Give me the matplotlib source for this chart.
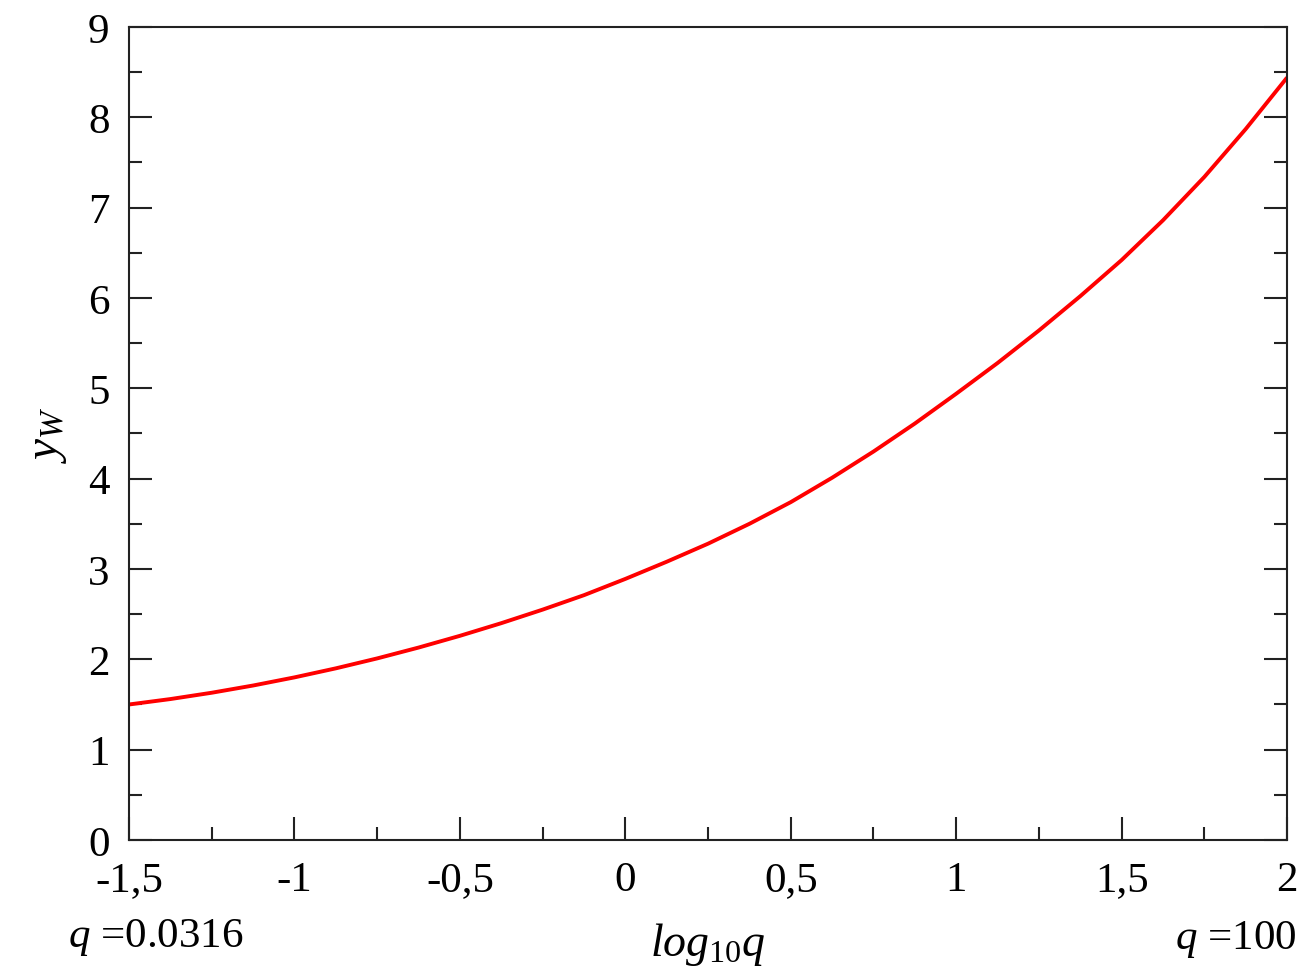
import numpy as np
import matplotlib
matplotlib.use("Agg")
import matplotlib.pyplot as plt
from matplotlib.ticker import MultipleLocator

# y_W as a function of log10(q), sampled every 0.125
log_q = [-1.5, -1.375, -1.25, -1.125, -1.0, -0.875, -0.75, -0.625, -0.5,
         -0.375, -0.25, -0.125, 0.0, 0.125, 0.25, 0.375, 0.5, 0.625, 0.75,
         0.875, 1.0, 1.125, 1.25, 1.375, 1.5, 1.625, 1.75, 1.875, 2.0]
y_w = [1.50, 1.56, 1.63, 1.71, 1.80, 1.90, 2.01, 2.13, 2.26,
       2.40, 2.55, 2.71, 2.89, 3.08, 3.28, 3.50, 3.74, 4.01, 4.30,
       4.61, 4.94, 5.28, 5.64, 6.02, 6.42, 6.86, 7.34, 7.87, 8.44]

xticks = [-1.5, -1.0, -0.5, 0.0, 0.5, 1.0, 1.5, 2.0]
xticklabels = ["-1,5", "-1", "-0,5", "0", "0,5", "1", "1,5", "2"]
yticks = list(range(0, 10))

plt.rcParams['font.family'] = ['Liberation Serif', 'DejaVu Serif']
plt.rcParams['mathtext.fontset'] = 'custom'
plt.rcParams['mathtext.rm'] = 'Liberation Serif'
plt.rcParams['mathtext.it'] = 'Liberation Serif:italic'

fig = plt.figure(figsize=(13.06, 9.78), dpi=100)
ax = fig.add_axes([0.0988, 0.1401, 0.8867, 0.8313])

ax.plot(log_q, y_w, color='#ff0000', lw=2.8, solid_capstyle='butt')

ax.set_xlim(-1.5, 2)
ax.set_ylim(0, 9)
ax.set_xticks(xticks)
ax.set_xticklabels(xticklabels)
ax.set_yticks(yticks)
ax.xaxis.set_minor_locator(MultipleLocator(0.25))
ax.yaxis.set_minor_locator(MultipleLocator(0.5))

ax.tick_params(which='both', direction='in', top=False, right=True,
               width=1.5, color='#222222', labelsize=31)
ax.tick_params(which='major', length=16.5)
ax.tick_params(which='minor', length=9.5)
ax.tick_params(axis='x', pad=15)
ax.tick_params(axis='y', pad=14)
for s in ax.spines.values():
    s.set_linewidth(1.5)
    s.set_color('#222222')

ax.set_ylabel(r'$y_{W}$', fontsize=34, labelpad=14)
fig.text(0.542, 0.034, r'$log_{\mathit{10}}q$', fontsize=33,
         ha='center', va='center')
fig.text(0.052, 0.041, r'$q$ =0.0316', fontsize=31, ha='left', va='center')
fig.text(0.993, 0.039, r'$q$ =100', fontsize=31, ha='right', va='center')

fig.savefig('out.png', dpi=100)
